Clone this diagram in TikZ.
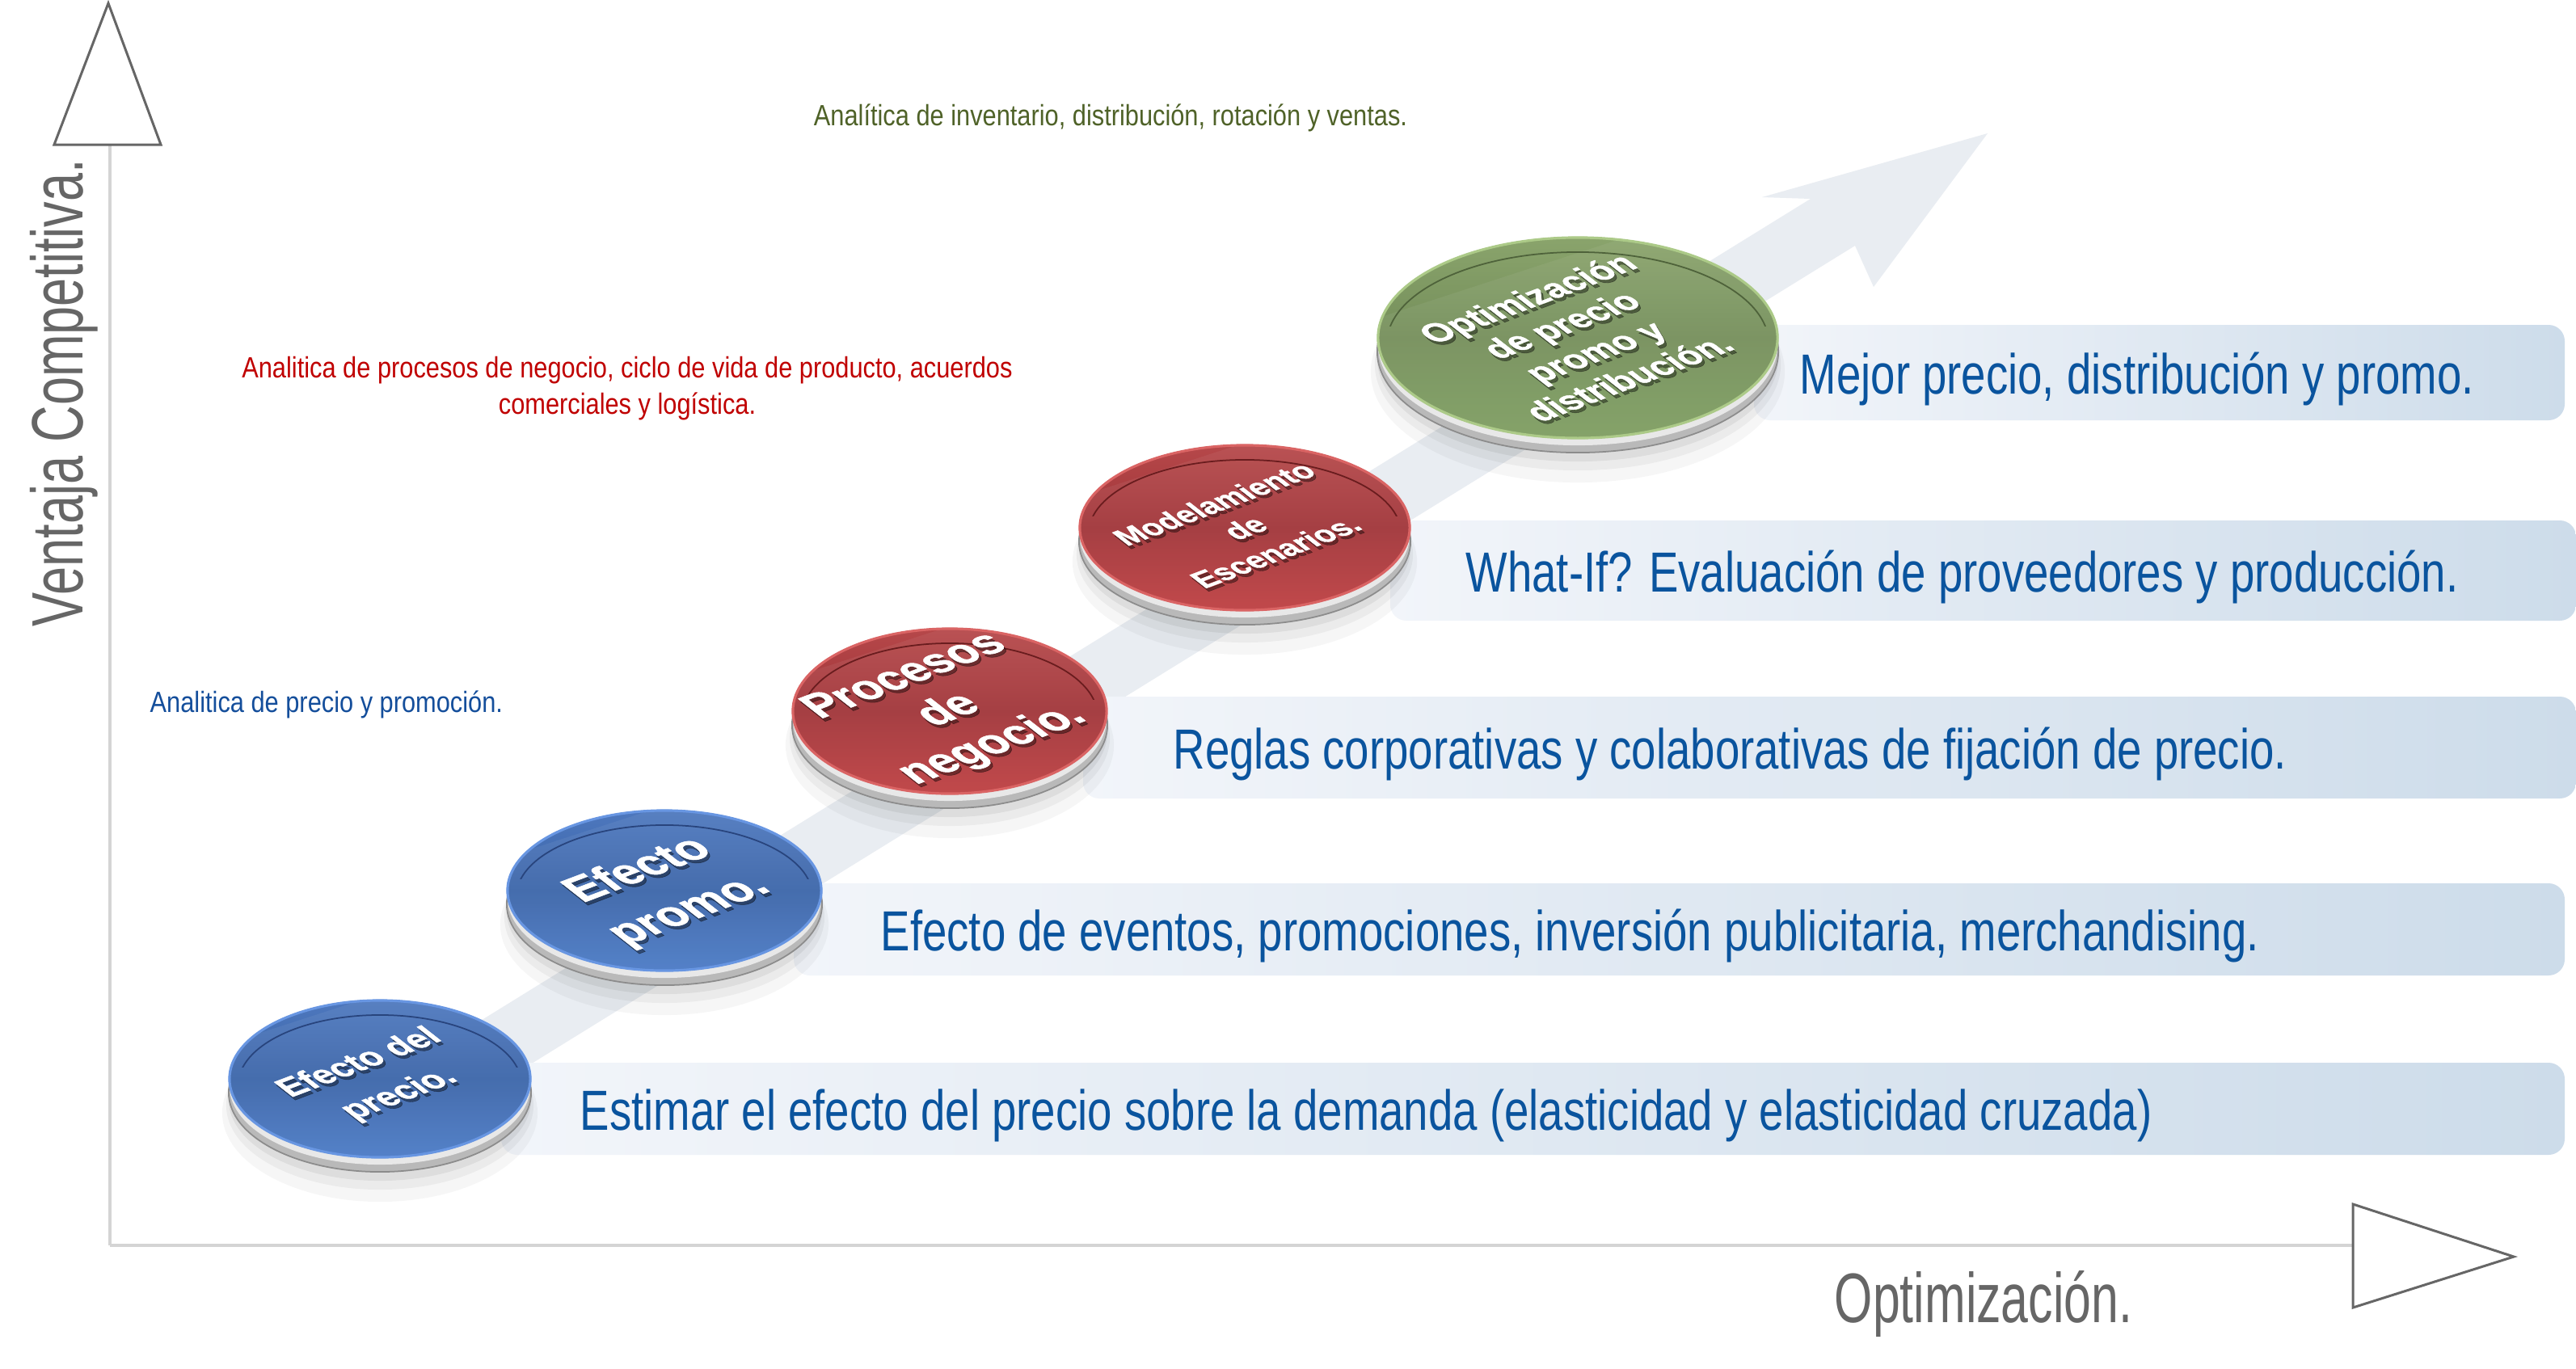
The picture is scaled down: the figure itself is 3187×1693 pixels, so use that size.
\documentclass[tikz,border=0pt]{standalone}
\usepackage{fontspec}
\setmainfont{Liberation Sans}
\newfontfamily\barfont[FakeStretch=0.78]{Liberation Sans}
\newfontfamily\axisfont[FakeStretch=0.7]{Liberation Sans}
\newfontfamily\smallfont[FakeStretch=0.85]{Liberation Sans}
\newfontfamily\discfont[FakeBold=1.2]{Liberation Sans}

\definecolor{bartext}{RGB}{10,84,158}
\definecolor{barleft}{RGB}{242,245,250}
\definecolor{barright}{RGB}{205,220,234}
\definecolor{arrowfill}{RGB}{233,237,242}
\definecolor{axisline}{RGB}{212,212,212}
\definecolor{axisgray}{RGB}{102,102,102}
\definecolor{greentxt}{RGB}{79,98,40}
\definecolor{redtxt}{RGB}{192,0,0}
\definecolor{bluetxt}{RGB}{20,78,155}
\definecolor{rimdark}{RGB}{185,185,185}
\definecolor{rimlight}{RGB}{232,232,232}
\definecolor{rimline}{RGB}{140,140,140}
% disc colours
\definecolor{blueA}{RGB}{78,120,190}
\definecolor{blueB}{RGB}{58,100,168}
\definecolor{blueC}{RGB}{74,122,198}
\definecolor{blueE}{RGB}{104,150,226}
\definecolor{blueD}{RGB}{40,68,125}
\definecolor{redA}{RGB}{182,72,74}
\definecolor{redB}{RGB}{160,52,56}
\definecolor{redC}{RGB}{190,62,64}
\definecolor{redE}{RGB}{218,100,100}
\definecolor{redD}{RGB}{105,28,30}
\definecolor{greenA}{RGB}{138,164,108}
\definecolor{greenB}{RGB}{116,142,90}
\definecolor{greenC}{RGB}{126,158,96}
\definecolor{greenE}{RGB}{172,202,136}
\definecolor{greenD}{RGB}{78,98,58}

\tikzset{
  bartxt/.style={font=\barfont\fontsize{19.9}{24}\selectfont, text=bartext, inner sep=0pt, anchor=base west},
  barshape/.style={rounded corners=0.2cm, left color=barleft, right color=barright},
  smalltxt/.style={font=\smallfont\fontsize{10.3}{12.8}\selectfont, inner sep=0pt, align=center},
  axislabel/.style={text=axisgray, inner sep=0pt, anchor=base},
  axisln/.style={draw=axisline, line width=0.04cm},
  axistri/.style={draw=axisgray, fill=white, line width=0.03cm, line join=miter},
  disctext/.style={align=center, text=white, inner sep=0pt, cm={0.82,0.31,-0.70,0.55,(0,0)}},
}

\newcommand\mydisc[9]{%
\begin{scope}[shift={(#2,#3)}]
  \fill[black,opacity=0.035] (0,42) ellipse [x radius=#4cm+0.08cm, y radius=#5cm+0.12cm];
  \fill[black,opacity=0.045] (0,33) ellipse [x radius=#4cm+0.03cm, y radius=#5cm+0.06cm];
  \fill[black,opacity=0.06] (0,26) ellipse [x radius=#4cm, y radius=#5cm+0.02cm];
  \filldraw[fill=rimdark, draw=rimline, line width=0.5pt] (0,17) ellipse [x radius=#4cm, y radius=#5cm];
  \fill[rimlight] (0,9) ellipse [x radius=#4cm-0.01cm, y radius=#5cm-0.01cm];
  \path[top color=#6A, bottom color=#6C, middle color=#6B] (0,0) ellipse [x radius=#4cm, y radius=#5cm];
  \begin{scope}
    \clip (0,0) ellipse [x radius=#4cm, y radius=#5cm];
    \fill[white, opacity=0.06] (-600,600) -- (-600,90) -- (600,-300) -- (600,600) -- cycle;
  \end{scope}
  \draw[#6E, line width=0.9pt] (0,0) ellipse [x radius=#4cm-0.01cm, y radius=#5cm-0.01cm];
  \begin{scope}
    \clip (-600,-600) rectangle (600,-15);
    \draw[#6D, line width=0.5pt] (0,7) ellipse [x radius=#4cm-0.12cm, y radius=#5cm-0.12cm];
  \end{scope}
  \node[disctext, text=black, text opacity=0.4, font=\discfont\bfseries\fontsize{#7}{#8}\selectfont] (#1s) at (3,4) {#9};
  \node[disctext, font=\discfont\bfseries\fontsize{#7}{#8}\selectfont] (#1) at (0,0) {#9};
\end{scope}}

\begin{document}
\begin{tikzpicture}[x=0.01cm, y=-0.01cm]
\useasboundingbox (0,0) rectangle (3187,1693);
\fill[white] (0,0) rectangle (3187,1693);

% axes
\coordinate (O) at (136,1541);
\coordinate (yend) at (136,179);
\coordinate (xend) at (2911,1541);
\draw[axisln] (O) -- (yend);
\draw[axisln] (O) -- (xend);
\draw[axistri] (134,4) -- (199,179) -- (67,179) -- cycle;
\draw[axistri] (2911,1490) -- (3110,1555) -- (2911,1618) -- cycle;
\node[axislabel, rotate=90, font=\axisfont\fontsize{25.6}{30}\selectfont] (ylab) at (102,486) {Ventaja Competitiva.};
\node[axislabel, font=\axisfont\fontsize{24.7}{28}\selectfont] (xlab) at (2454,1636) {Optimización.};

% big arrow
\fill[arrowfill] (538,1298) -- (2240,246) -- (2180,244) -- (2459,165) -- (2318,355) -- (2295,304) -- (593,1356) -- cycle;

% bars
\path[barshape] (620,1315) rectangle (3173,1429);
\path[barshape] (982,1093) rectangle (3173,1207);
\path[barshape] (1340,862) rectangle (3187,988);
\path[barshape] (1720,644) rectangle (3187,768);
\path[barshape] (2170,402) rectangle (3173,520);

% discs
\mydisc{d1}{470}{1335}{1.87}{0.98}{blue}{13.7}{20}{Efecto del\\precio.}
\mydisc{d2}{822}{1102}{1.95}{1.00}{blue}{18.5}{25.5}{Efecto\\promo.}
\mydisc{d3}{1175}{880}{1.95}{1.03}{red}{18}{22}{Procesos\\de\\negocio.}
\mydisc{d4}{1540}{653}{2.05}{1.03}{red}{12.2}{15.5}{Modelamiento\\de\\Escenarios.}
\mydisc{d5}{1952}{418}{2.48}{1.25}{green}{14}{17}{Optimización\\de precio\\promo y\\distribución.}

% bar texts
\node[bartxt] (t1) at (717,1398) {Estimar el efecto del precio sobre la demanda (elasticidad y elasticidad cruzada)};
\node[bartxt] (t2) at (1089,1176) {Efecto de eventos, promociones, inversión publicitaria, merchandising.};
\node[bartxt] (t3) at (1451,951) {Reglas corporativas y colaborativas de fijación de precio.};
\node[bartxt] (t4) at (1813,732) {What-If? Evaluación de proveedores y producción.};
\node[bartxt] (t5) at (2226,487) {Mejor precio, distribución y promo.};

% small analytic texts
\node[smalltxt, text=greentxt] (g1) at (1374,146) {Analítica de inventario, distribución, rotación y ventas.};
\node[smalltxt, text=redtxt] (r1) at (776,481) {Analitica de procesos de negocio, ciclo de vida de producto, acuerdos\\comerciales y logística.};
\node[smalltxt, text=bluetxt, anchor=west] (b1) at (185,872) {Analitica de precio y promoción.};
\end{tikzpicture}
\end{document}
